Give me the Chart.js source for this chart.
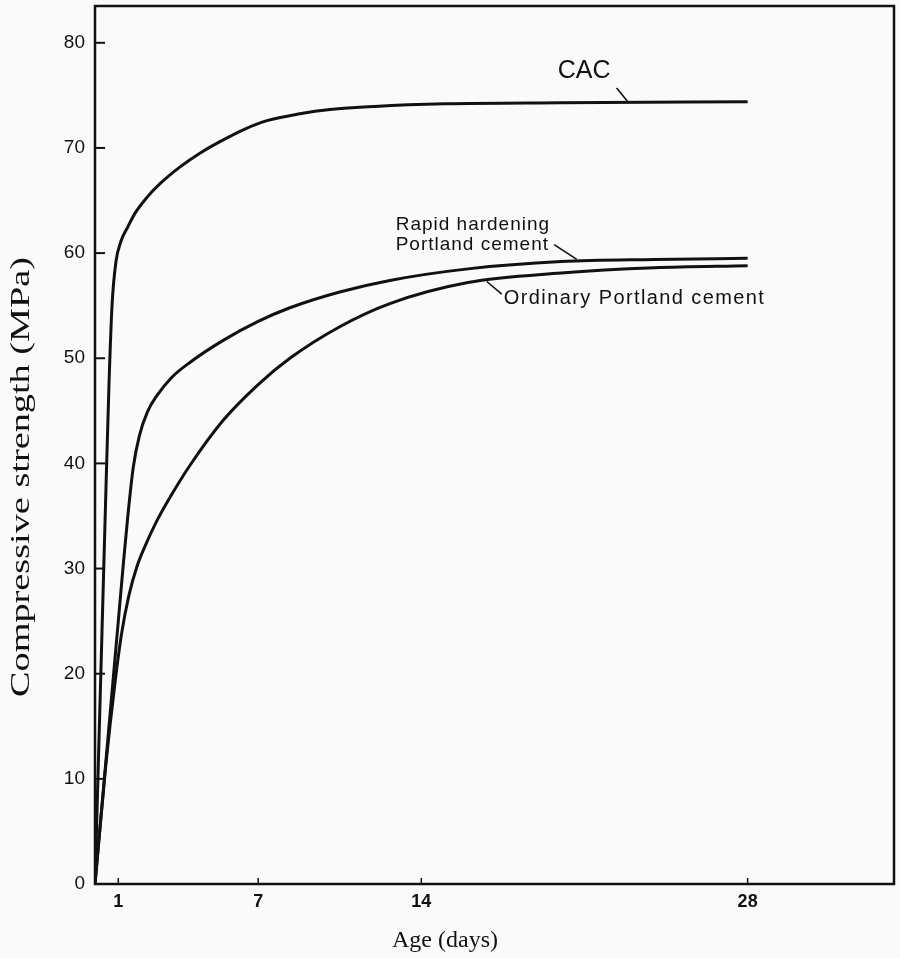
<!DOCTYPE html>
<html>
<head>
<meta charset="utf-8">
<title>Compressive strength vs age</title>
<script src="https://cdn.jsdelivr.net/npm/chart.js@4.4.1/dist/chart.umd.min.js"></script>
<style>
  html, body { margin: 0; padding: 0; background: #fafafa; }
  #wrap { width: 900px; height: 958px; }
</style>
</head>
<body>
<div id="wrap"><canvas id="chart"></canvas></div>
<script>
// ages (days) and strengths (MPa)
var cacDays = [0, 0.15, 0.3, 0.45, 0.6, 0.73, 0.9, 1.11, 1.41, 1.72, 2.23, 2.79, 3.65, 4.5, 5.36, 6.43, 7.38, 8.79, 10.08, 12, 15, 20, 28];
var cacMPa = [0, 12, 24, 36, 47.5, 55, 59.2, 61.1, 62.5, 63.8, 65.3, 66.6, 68.2, 69.5, 70.6, 71.8, 72.6, 73.25, 73.65, 73.95, 74.2, 74.3, 74.4];

var rapidDays = [0, 0.4, 0.76, 1.0, 1.21, 1.4, 1.64, 1.9, 2.25, 2.64, 3.3, 4.07, 5.5, 7, 8.36, 10.5, 12.65, 16, 20, 24, 28];
var rapidMPa = [0, 10, 19, 25, 30.3, 34.8, 39.6, 42.6, 44.9, 46.4, 48.2, 49.6, 51.7, 53.5, 54.8, 56.3, 57.4, 58.5, 59.2, 59.4, 59.5];

var ordDays = [0, 0.45, 0.85, 1.14, 1.45, 1.8, 2.2, 2.6, 3.2, 4.07, 5.5, 7, 8.36, 10.5, 12.65, 16, 20, 24, 28];
var ordMPa = [0, 11, 19, 23.8, 27.4, 30.2, 32.4, 34.3, 36.7, 39.8, 44.1, 47.5, 50, 53, 55.2, 57.2, 58.1, 58.6, 58.8];

var xTicks = [1, 7, 14, 28];
var yTicks = [0, 10, 20, 30, 40, 50, 60, 70, 80];

var ink = '#111';

// curve labels and their leader lines, in data units (days, MPa)
var notes = [
	{ lines: ['CAC'], x: 19.85, y: 77.3, size: 25, gap: 0, spacing: 0 },
	{ lines: ['Rapid hardening', 'Portland cement'], x: 12.9, y: 62.7, size: 19, gap: 1.9, spacing: 1 },
	{ lines: ['Ordinary Portland cement'], x: 17.54, y: 55.7, size: 20, gap: 0, spacing: 1.4 }
];
var leaders = [
	[22.38, 75.7, 22.86, 74.4],
	[19.7, 60.8, 20.67, 59.4],
	[16.81, 57.3, 17.45, 56.1]
];

function pts(xs, ys) {
	return xs.map(function (v, i) { return { x: v, y: ys[i] }; });
}

function curve(label, xs, ys) {
	return {
		label: label,
		data: pts(xs, ys),
		borderColor: ink,
		borderWidth: 3,
		pointRadius: 0,
		fill: false,
		cubicInterpolationMode: 'monotone'
	};
}

// frame, inside ticks, axis titles and curve labels
var decor = {
	id: 'decor',
	beforeDraw: function (chart) {
		var ctx = chart.ctx;
		ctx.save();
		ctx.fillStyle = '#fafafa';
		ctx.fillRect(0, 0, chart.width, chart.height);
		ctx.restore();
	},
	afterDraw: function (chart) {
		var ctx = chart.ctx, a = chart.chartArea;
		var xs = chart.scales.x, ys = chart.scales.y;
		ctx.save();
		ctx.strokeStyle = ink;
		ctx.fillStyle = ink;
		ctx.lineWidth = 2.5;
		ctx.strokeRect(a.left, a.top, a.right - a.left, a.bottom - a.top);

		ctx.lineWidth = 2;
		ys.ticks.forEach(function (t) {
			var py = ys.getPixelForValue(t.value);
			ctx.beginPath(); ctx.moveTo(a.left, py); ctx.lineTo(a.left + 10, py); ctx.stroke();
		});
		ctx.lineWidth = 1.5;
		xs.ticks.forEach(function (t) {
			var px = xs.getPixelForValue(t.value);
			ctx.beginPath(); ctx.moveTo(px, a.bottom); ctx.lineTo(px, a.bottom - 6); ctx.stroke();
		});

		// leaders
		ctx.lineWidth = 1.6;
		leaders.forEach(function (l) {
			ctx.beginPath();
			ctx.moveTo(xs.getPixelForValue(l[0]), ys.getPixelForValue(l[1]));
			ctx.lineTo(xs.getPixelForValue(l[2]), ys.getPixelForValue(l[3]));
			ctx.stroke();
		});

		// labels
		ctx.textAlign = 'left';
		ctx.textBaseline = 'middle';
		notes.forEach(function (n) {
			ctx.font = n.size + 'px "Liberation Sans", Arial, sans-serif';
			if ('letterSpacing' in ctx) ctx.letterSpacing = n.spacing + 'px';
			n.lines.forEach(function (s, i) {
				ctx.fillText(s, xs.getPixelForValue(n.x), ys.getPixelForValue(n.y - i * n.gap));
			});
		});
		if ('letterSpacing' in ctx) ctx.letterSpacing = '0px';

		// axis titles
		ctx.textAlign = 'center';
		ctx.font = '24px "Liberation Serif", "Times New Roman", serif';
		ctx.fillText('Age (days)', 445, 941);

		ctx.translate(22, 477);
		ctx.rotate(-Math.PI / 2);
		ctx.font = '27px "Liberation Serif", "Times New Roman", serif';
		var w = ctx.measureText('Compressive strength (MPa)').width;
		ctx.scale(440 / w, 1);
		ctx.fillText('Compressive strength (MPa)', 0, 0);
		ctx.restore();
	}
};

new Chart(document.getElementById('chart'), {
	type: 'line',
	data: {
		datasets: [
			curve('CAC', cacDays, cacMPa),
			curve('Rapid hardening Portland cement', rapidDays, rapidMPa),
			curve('Ordinary Portland cement', ordDays, ordMPa)
		]
	},
	options: {
		responsive: true,
		maintainAspectRatio: false,
		animation: false,
		layout: { padding: { top: 6, right: 6, left: 0, bottom: 0 } },
		plugins: { legend: { display: false }, tooltip: { enabled: false } },
		scales: {
			x: {
				type: 'linear',
				min: 0,
				max: 34.28,
				afterBuildTicks: function (s) { s.ticks = xTicks.map(function (v) { return { value: v }; }); },
				afterFit: function (s) { s.height = 74; s.paddingLeft = 0; s.paddingRight = 0; },
				grid: { display: false, drawTicks: false },
				border: { display: false },
				ticks: { padding: 7, color: ink, autoSkip: false, maxRotation: 0,
					font: { family: '"Liberation Sans", Arial, sans-serif', size: 18, weight: 'bold' } }
			},
			y: {
				type: 'linear',
				min: 0,
				max: 83.5,
				afterBuildTicks: function (s) { s.ticks = yTicks.map(function (v) { return { value: v }; }); },
				afterFit: function (s) { s.width = 95; s.paddingTop = 0; s.paddingBottom = 0; },
				grid: { display: false, drawTicks: false },
				border: { display: false },
				ticks: { padding: 10, color: ink,
					font: { family: '"Liberation Sans", Arial, sans-serif', size: 19 } }
			}
		}
	},
	plugins: [decor]
});
</script>
</body>
</html>
